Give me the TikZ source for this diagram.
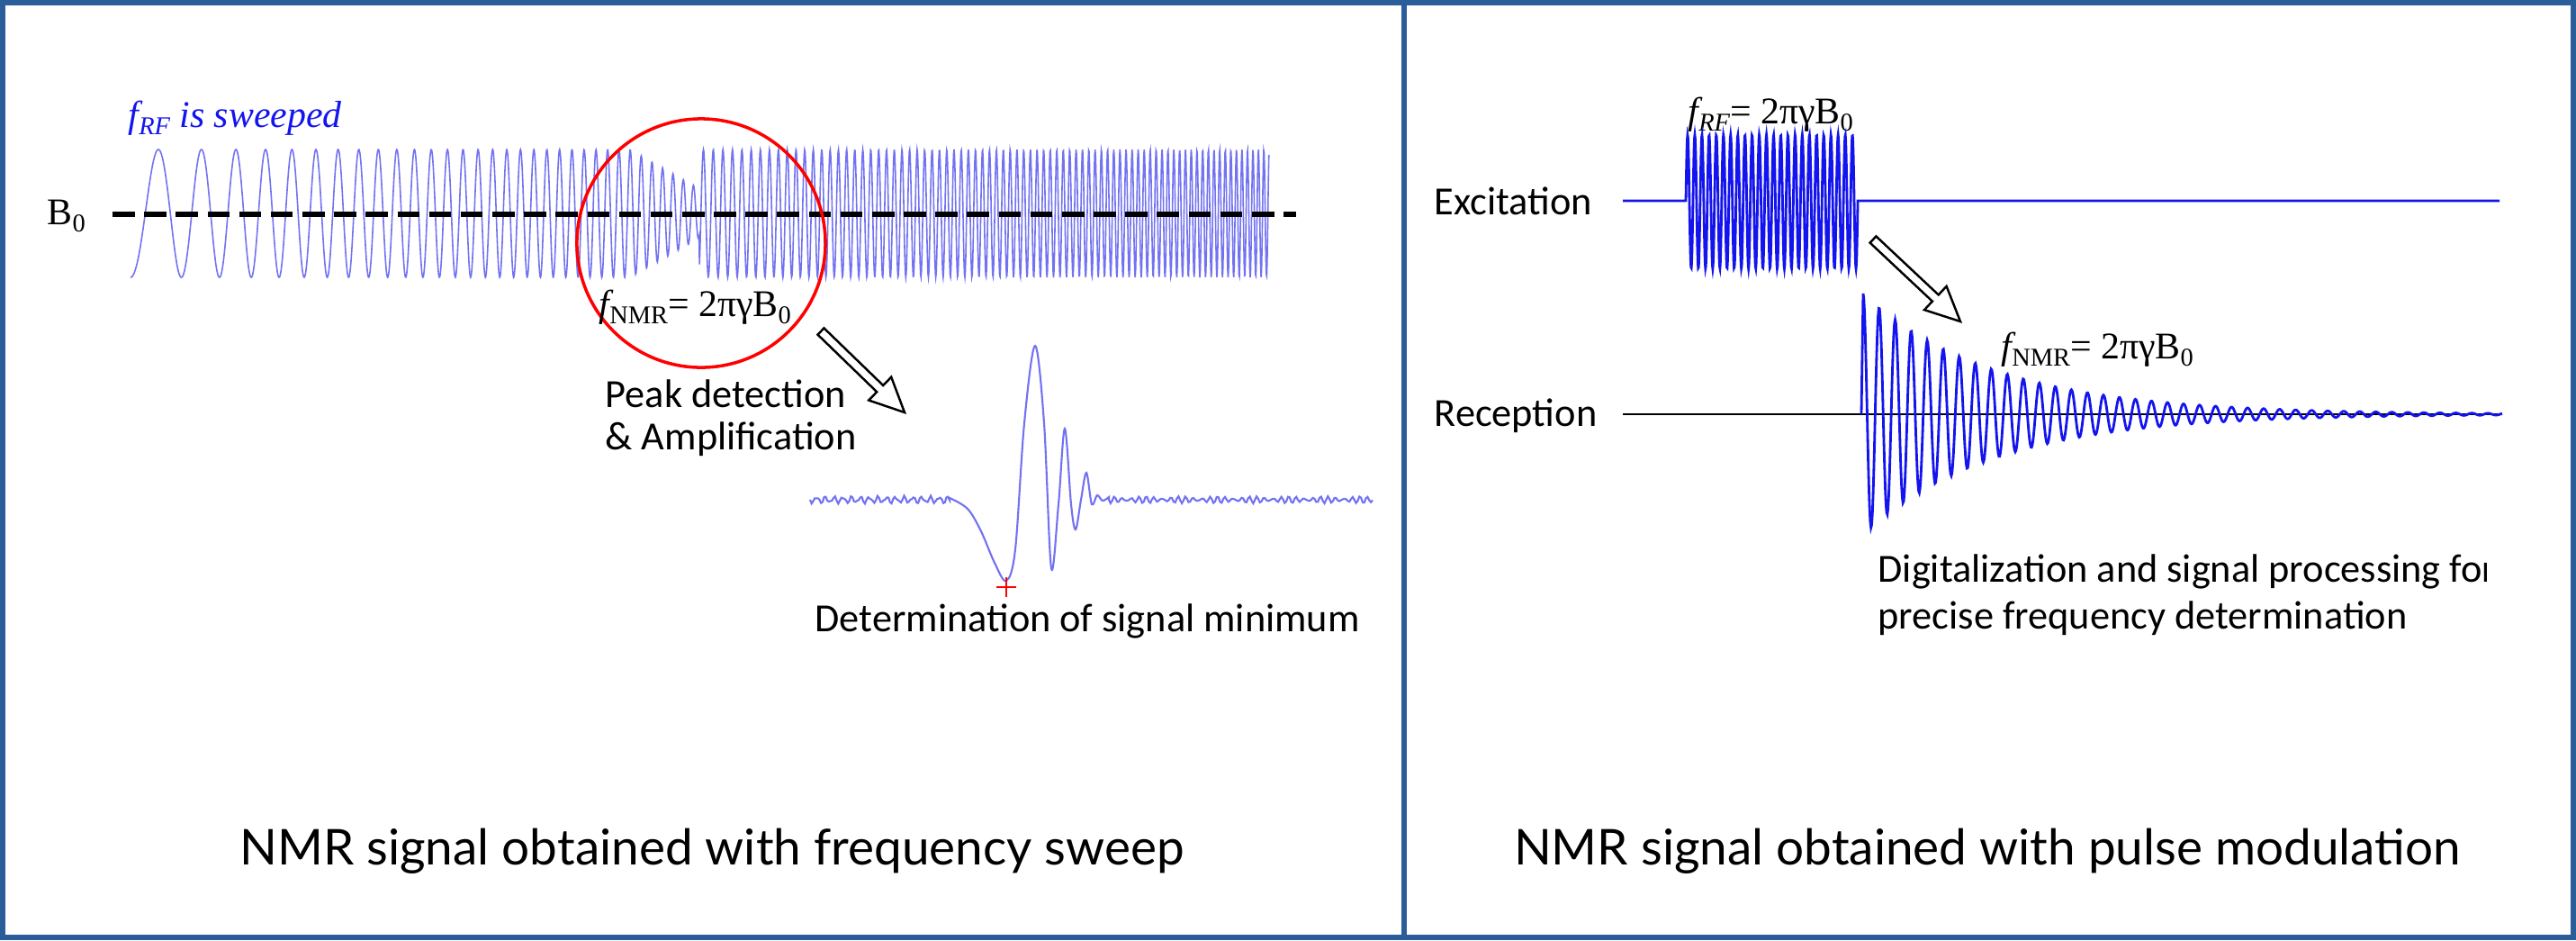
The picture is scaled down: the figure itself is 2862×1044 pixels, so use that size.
\documentclass[tikz,border=0pt]{standalone}
\usepackage{fontspec}
\setmainfont{Liberation Serif}
\newfontfamily\calib{Carlito}
\newfontfamily\capfont{Lato}
\newcommand\lowsub[1]{\raisebox{-0.45ex}{\scalebox{0.68}{#1}}}
\definecolor{frame}{HTML}{2A5D99}
\definecolor{lblue}{HTML}{7272F2}
\definecolor{dblue}{HTML}{1414EE}
\begin{document}
\begin{tikzpicture}[x=0.01cm,y=-0.01cm,
  lbl/.style={font=\calib\fontsize{12.6}{14}\selectfont, inner sep=0, anchor=west},
  mth/.style={font=\fontsize{11.9}{13}\selectfont, inner sep=0, anchor=west},
  captext/.style={font=\capfont\fontsize{15.6}{18}\selectfont, inner sep=0},
  hollow/.style={draw=black, fill=white, line width=0.7pt, line join=miter}]
\fill[white] (0,0) rectangle (2862,1044);
\useasboundingbox (0,0) rectangle (2862,1044);
\draw[frame, line width=1.8pt] (3,3) rectangle (2859,1041);
\draw[frame, line width=1.6pt] (1560,3) -- (1560,1041);

% ---------------- left panel
\node[mth, text=dblue] (frf) at (142,131) {{\itshape f}\lowsub{\itshape RF} \itshape is sweeped};
\node[mth] (b0) at (52,240) {B\lowsub{0}};
\draw[lblue, line width=0.45pt] plot[domain=0:1, samples=2600]
  ({145+1265*\x},{237-71*(1-0.7*max(0,min(1,(1265*\x-555)/88))*(\x<0.4996))*sin(360*mod(18.07*\x+96.4*\x*\x,1)-90)});
\draw[black, line width=1.7pt, dash pattern=on 7pt off 3pt] (125,238) -- (1440,238);
\node[draw=red, line width=1pt, circle, minimum size=276*0.2845pt] (circ) at (779,270) {};
\node[mth] (fnmr) at (665,341) {{\itshape f}\lowsub{NMR}= 2πγB\lowsub{0}};
\node[lbl] (peak) at (672,437) {Peak detection};
\node[lbl] (amp) at (672,488) {\& Amplification};
\draw[hollow] (908.5,371.6) -- (974.2,435.2) -- (965.2,444.5) -- (1005,458) -- (990.2,418.7) -- (981.2,428) -- (915.5,364.4) -- cycle;
\draw[lblue, line width=0.6pt] plot[domain=900:1055, samples=90] ({\x},{555+3*sin(37*(\x-900))+1.5*sin(61*(\x-900))})
  -- plot[smooth, tension=0.55] coordinates {(1055,553) (1075,565) (1090,590) (1105,625) (1118,645) (1128,610) (1138,470) (1150,384) (1160,470) (1168,631) (1176,560) (1183,476) (1190,560) (1195,588) (1201,555) (1207,525) (1213,560) (1219,550) (1225,556) (1232,552)}
  -- plot[domain=1232:1525, samples=160] ({\x},{555+2.5*sin(41*(\x-1232))+1.5*sin(50*(\x-1232))});
\draw[red, line width=0.8pt] (1118,641) -- (1118,663) (1107,652) -- (1129,652);
\node[lbl] (detmin) at (905,690) {Determination of signal minimum};
\node[captext] (capL) at (791,945) {NMR signal obtained with frequency sweep};

% ---------------- right panel
\node[lbl] (exc) at (1593,223) {Excitation};
\node[lbl] (rec) at (1593,462) {Reception};
\node[mth] (frf2) at (1875,127) {{\itshape f}\lowsub{\itshape RF}= 2πγB\lowsub{0}};
\draw[dblue, line width=0.8pt] (1803,223) -- (1873,223)
  -- plot[domain=0:191, samples=500] ({1873+\x},{224-74*sin(360*mod(\x/7.96,1))})
  -- (2064,223) -- (2777,223);
\draw[black, line width=0.7pt] (1803,460) -- (2780,460);
\draw[dblue, line width=0.8pt] (2068,460) -- plot[domain=0:710, samples=900]
  ({2070+\x},{460-134*exp(-\x/145)*cos(360*mod(\x/17.8,1))});
\draw[hollow] (2077.6,269.6) -- (2146.9,334.6) -- (2138.0,344.1) -- (2178,357) -- (2162.6,317.9) -- (2153.7,327.4) -- (2084.4,262.4) -- cycle;
\node[mth] (fnmr2) at (2223,388) {{\itshape f}\lowsub{NMR}= 2πγB\lowsub{0}};
\begin{scope}
\clip (2000,600) rectangle (2762,720);
\node[lbl] (dig) at (2086,635) {Digitalization and signal processing for};
\end{scope}
\node[lbl] (prec) at (2086,687) {precise frequency determination};
\node[captext] (capR) at (2208,945) {NMR signal obtained with pulse modulation};
\end{tikzpicture}
\end{document}
